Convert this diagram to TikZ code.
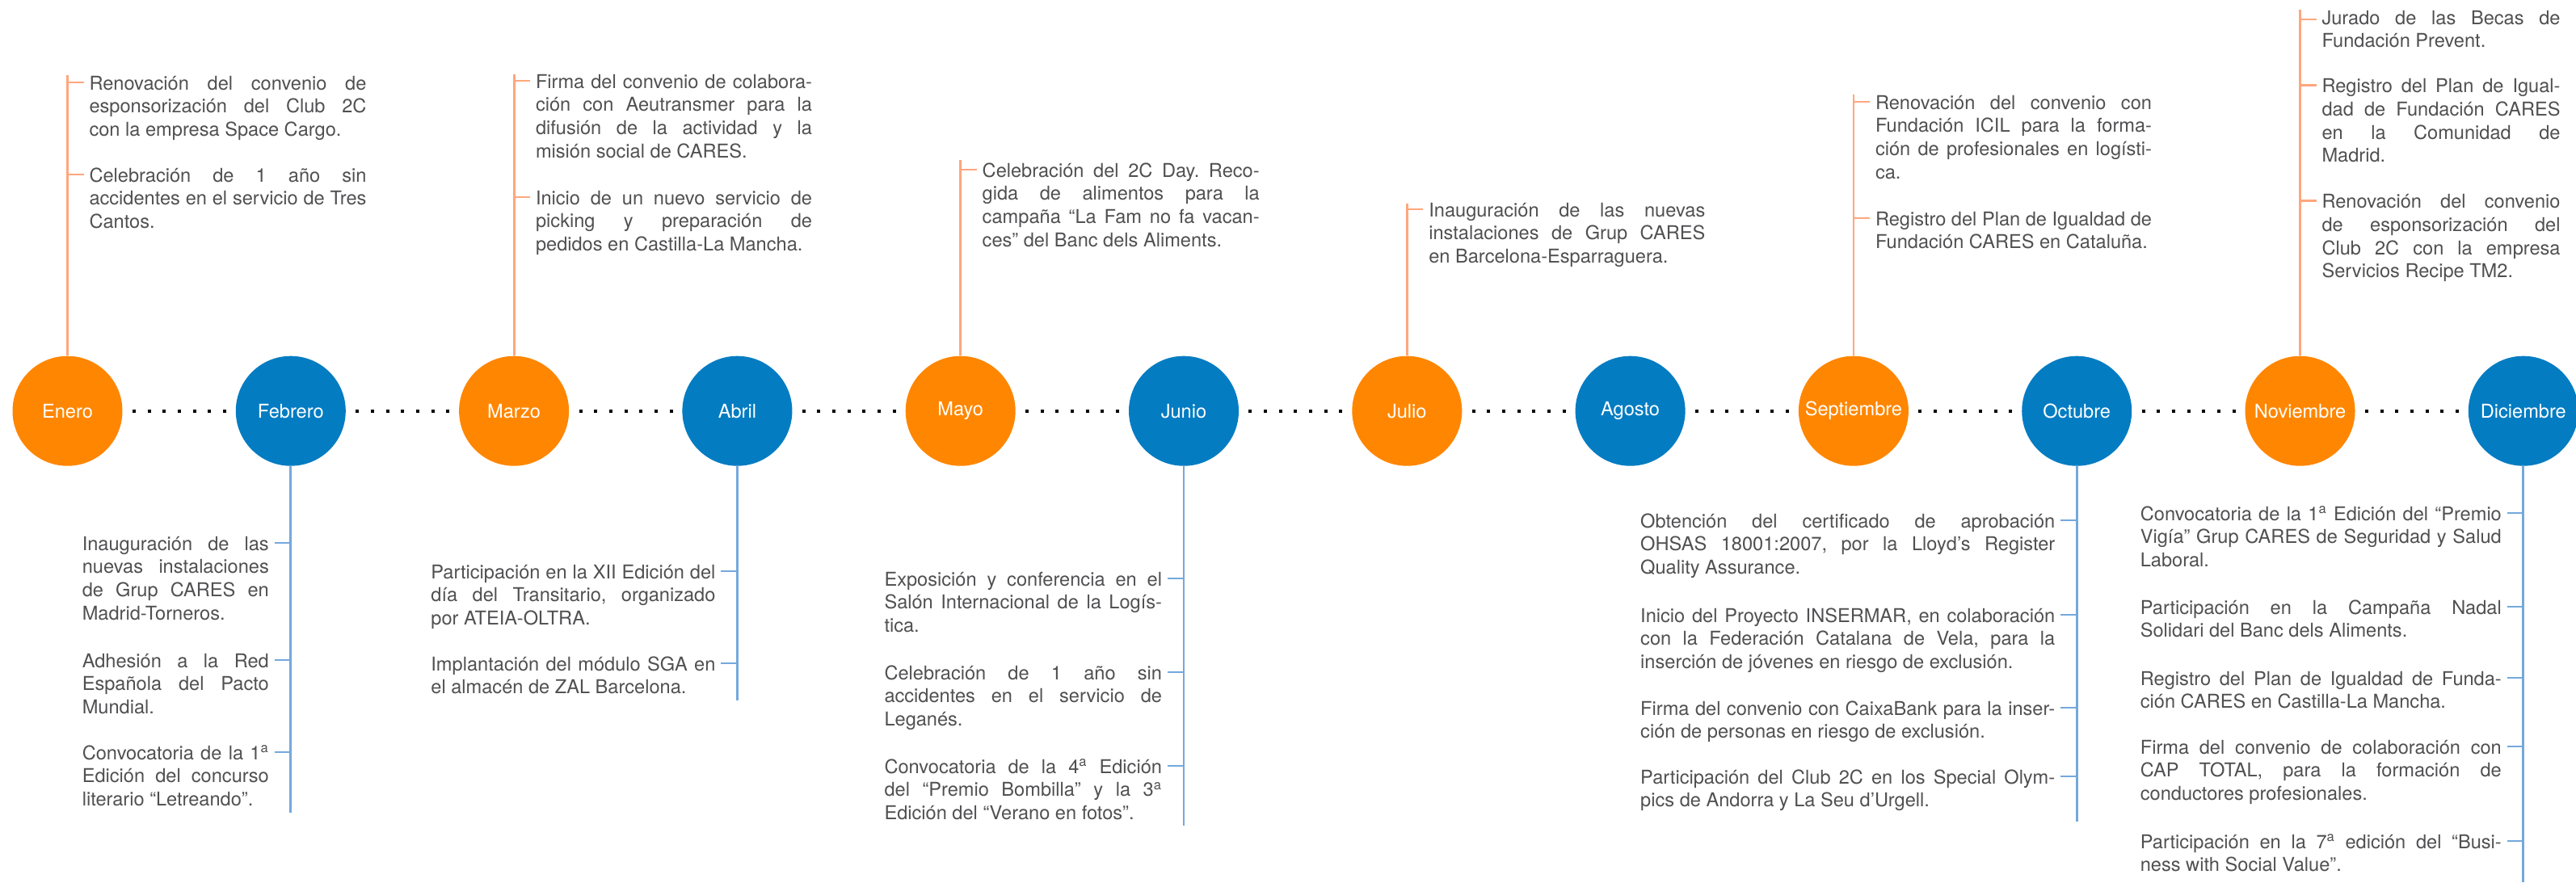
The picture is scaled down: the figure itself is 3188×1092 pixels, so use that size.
\documentclass[tikz,border=0pt]{standalone}
\usepackage{fontspec}
\setmainfont{TeX Gyre Heros}
\definecolor{corange}{HTML}{FF8600}
\definecolor{cblue}{HTML}{037CC2}
\definecolor{olinec}{HTML}{FFA67C}
\definecolor{blinec}{HTML}{74A8DD}
\definecolor{ctext}{HTML}{505052}
\newcommand\jl[1]{\hbox to\hsize{\spaceskip=0.278em plus 1fil minus 0.12em\relax #1}}
\newcommand\el[1]{\hbox{#1}}
\newcommand\para[2]{\vtop{\hsize=#1\relax #2}}
\newcommand\orda{\textsuperscript{a}}
\tikzset{
  mon/.style={circle, minimum size=68pt, inner sep=0pt, text=white, font=\fontsize{11.8}{14.4}\selectfont},
  mo/.style={mon, fill=corange},
  mb/.style={mon, fill=cblue},
  txt/.style={inner sep=0pt, outer sep=0pt, text=ctext, font=\fontsize{11.8}{14.4}\selectfont\frenchspacing},
  tt/.style={txt, anchor=base west},
  bt/.style={txt, anchor=base east},
  oln/.style={draw=olinec, line width=1.4pt},
  bln/.style={draw=blinec, line width=1.4pt},
  dots/.style={draw=black, line width=2pt, dash pattern=on 2pt off 7.333pt, dash phase=3.333pt},
}
\begin{document}
\begin{tikzpicture}[x=0.5pt,y=-0.5pt]
\fill[white] (0,0) rectangle (3188,1092);
\useasboundingbox (0,0) rectangle (3188,1092);

% month circles
\node[mo] (m1) at (83.5,508.7) {Enero};
\node[mb] (m2) at (359.8,508.7) {Febrero};
\node[mo] (m3) at (636.1,508.7) {Marzo};
\node[mb] (m4) at (912.4,508.7) {Abril};
\node[mo] (m5) at (1188.7,508.7) {Mayo};
\node[mb] (m6) at (1465.0,508.7) {Junio};
\node[mo] (m7) at (1741.3,508.7) {Julio};
\node[mb] (m8) at (2017.6,508.7) {Agosto};
\node[mo] (m9) at (2293.9,508.7) {Septiembre};
\node[mb] (m10) at (2570.2,508.7) {Octubre};
\node[mo] (m11) at (2846.5,508.7) {Noviembre};
\node[mb] (m12) at (3122.8,508.7) {Diciembre};

\foreach \a/\b in {1/2,2/3,3/4,4/5,5/6,6/7,7/8,8/9,9/10,10/11,11/12}
  \draw[dots] (m\a) -- (m\b);

% line ends
\coordinate (t1) at (83.5,93);
\coordinate (t3) at (636.1,92);
\coordinate (t5) at (1188.7,198);
\coordinate (t7) at (1741.3,252);
\coordinate (t9) at (2293.9,117);
\coordinate (t11) at (2846.5,12);
\coordinate (b2) at (359.8,1006);
\coordinate (b4) at (912.4,867);
\coordinate (b6) at (1465.0,1022);
\coordinate (b10) at (2570.2,1017);
\coordinate (b12) at (3122.8,1092);

\foreach \i in {1,3,5,7,9,11} \draw[oln] (m\i) -- (t\i);
\foreach \i in {2,4,6,10,12} \draw[bln] (m\i) -- (b\i);

% ---------- Enero
\node[tt] (e1) at (110.5,111) {\para{171.5pt}{\jl{Renovación del convenio de}\jl{esponsorización del Club 2C}\el{con la empresa Space Cargo.}}};
\node[tt] (e2) at (110.5,225) {\para{171.5pt}{\jl{Celebración de 1 año sin}\jl{accidentes en el servicio de Tres}\el{Cantos.}}};
% ---------- Marzo
\node[tt] (r1) at (663,109) {\para{171pt}{\jl{Firma del convenio de colabora-}\jl{ción con Aeutransmer para la}\jl{difusión de la actividad y la}\el{misión social de CARES.}}};
\node[tt] (r2) at (663,253) {\para{171pt}{\jl{Inicio de un nuevo servicio de}\jl{picking y preparación de}\el{pedidos en Castilla-La Mancha.}}};
% ---------- Mayo
\node[tt] (y1) at (1215.7,219) {\para{171.5pt}{\jl{Celebración del 2C Day. Reco-}\jl{gida de alimentos para la}\jl{campaña “La Fam no fa vacan-}\el{ces” del Banc dels Aliments.}}};
% ---------- Julio
\node[tt] (l1) at (1768.3,268) {\para{171pt}{\jl{Inauguración de las nuevas}\jl{instalaciones de Grup CARES}\el{en Barcelona-Esparraguera.}}};
% ---------- Septiembre
\node[tt] (s1) at (2321,135) {\para{171pt}{\jl{Renovación del convenio con}\jl{Fundación ICIL para la forma-}\jl{ción de profesionales en logísti-}\el{ca.}}};
\node[tt] (s2) at (2321,279) {\para{171pt}{\jl{Registro del Plan de Igualdad de}\el{Fundación CARES en Cataluña.}}};
% ---------- Noviembre
\node[tt] (n1) at (2873.5,30) {\para{147.5pt}{\jl{Jurado de las Becas de}\el{Fundación Prevent.}}};
\node[tt] (n2) at (2873.5,114.5) {\para{147.5pt}{\jl{Registro del Plan de Igual-}\jl{dad de Fundación CARES}\jl{en la Comunidad de}\el{Madrid.}}};
\node[tt] (n3) at (2873.5,257.5) {\para{147.5pt}{\jl{Renovación del convenio}\jl{de esponsorización del}\jl{Club 2C con la empresa}\el{Servicios Recipe TM2.}}};

% ---------- Febrero
\node[bt] (f1) at (332.8,681) {\para{115.5pt}{\jl{Inauguración de las}\jl{nuevas instalaciones}\jl{de Grup CARES en}\el{Madrid-Torneros.}}};
\node[bt] (f2) at (332.8,826) {\para{115.5pt}{\jl{Adhesión a la Red}\jl{Española del Pacto}\el{Mundial.}}};
\node[bt] (f3) at (332.8,940) {\para{115.5pt}{\jl{Convocatoria de la 1\orda}\jl{Edición del concurso}\el{literario “Letreando”.}}};
% ---------- Abril
\node[bt] (a1) at (885.4,716) {\para{176pt}{\jl{Participación en la XII Edición del}\jl{día del Transitario, organizado}\el{por ATEIA-OLTRA.}}};
\node[bt] (a2) at (885.4,830) {\para{176pt}{\jl{Implantación del módulo SGA en}\el{el almacén de ZAL Barcelona.}}};
% ---------- Junio
\node[bt] (j1) at (1438,725) {\para{171.75pt}{\jl{Exposición y conferencia en el}\jl{Salón Internacional de la Logís-}\el{tica.}}};
\node[bt] (j2) at (1438,841) {\para{171.75pt}{\jl{Celebración de 1 año sin}\jl{accidentes en el servicio de}\el{Leganés.}}};
\node[bt] (j3) at (1438,957) {\para{171.75pt}{\jl{Convocatoria de la 4\orda{} Edición}\jl{del “Premio Bombilla” y la 3\orda}\el{Edición del “Verano en fotos”.}}};
% ---------- Octubre
\node[bt] (o1) at (2543.2,653) {\para{256.5pt}{\jl{Obtención del certificado de aprobación}\jl{OHSAS 18001:2007, por la Lloyd’s Register}\el{Quality Assurance.}}};
\node[bt] (o2) at (2543.2,770) {\para{256.5pt}{\jl{Inicio del Proyecto INSERMAR, en colaboración}\jl{con la Federación Catalana de Vela, para la}\el{inserción de jóvenes en riesgo de exclusión.}}};
\node[bt] (o3) at (2543.2,885) {\para{256.5pt}{\jl{Firma del convenio con CaixaBank para la inser-}\el{ción de personas en riesgo de exclusión.}}};
\node[bt] (o4) at (2543.2,970) {\para{256.5pt}{\jl{Participación del Club 2C en los Special Olym-}\el{pics de Andorra y La Seu d’Urgell.}}};
% ---------- Diciembre
\node[bt] (d1) at (3095.8,644) {\para{223.5pt}{\jl{Convocatoria de la 1\orda{} Edición del “Premio}\jl{Vigía” Grup CARES de Seguridad y Salud}\el{Laboral.}}};
\node[bt] (d2) at (3095.8,760) {\para{223.5pt}{\jl{Participación en la Campaña Nadal}\el{Solidari del Banc dels Aliments.}}};
\node[bt] (d3) at (3095.8,848) {\para{223.5pt}{\jl{Registro del Plan de Igualdad de Funda-}\el{ción CARES en Castilla-La Mancha.}}};
\node[bt] (d4) at (3095.8,933) {\para{223.5pt}{\jl{Firma del convenio de colaboración con}\jl{CAP TOTAL, para la formación de}\el{conductores profesionales.}}};
\node[bt] (d5) at (3095.8,1050) {\para{223.5pt}{\jl{Participación en la 7\orda{} edición del “Busi-}\el{ness with Social Value”.}}};

% ticks (top, orange)
\foreach \n in {e1,e2,r1,r2,y1,l1,s1,s2,n2,n3}
  \draw[oln] ([shift={(-27,-9)}]\n.base west) -- ++(20,0);
\draw[oln] ([shift={(-27,-6)}]n1.base west) -- ++(20,0);
% ticks (bottom, blue)
\foreach \n in {f1,f2,f3,a1,a2,j1,j2,j3,o1,o2,o3,o4,d1,d2,d3,d4,d5}
  \draw[bln] ([shift={(27,-9)}]\n.base east) -- ++(-20,0);
\end{tikzpicture}
\end{document}
